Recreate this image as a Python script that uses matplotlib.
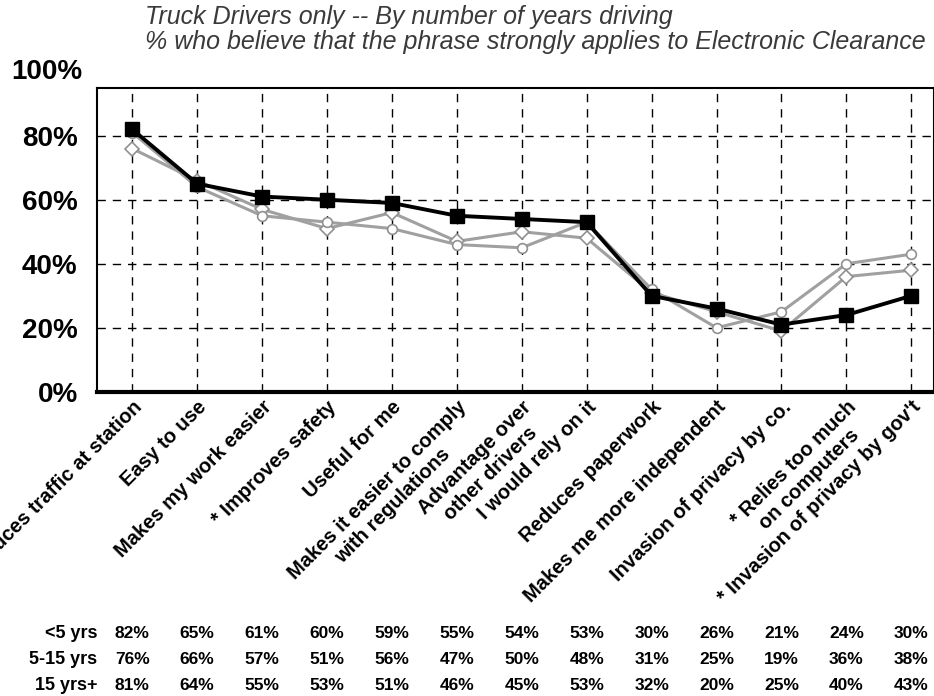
import matplotlib.pyplot as plt
import numpy as np

categories = [
    "Reduces traffic at station", "Easy to use", "Makes my work easier",
    "* Improves safety", "Useful for me",
    "Makes it easier to comply\nwith regulations",
    "Advantage over\nother drivers", "I would rely on it",
    "Reduces paperwork", "Makes me more independent",
    "Invasion of privacy by co.", "* Relies too much\non computers",
    "* Invasion of privacy by gov't",
]
groups = ["<5 yrs", "5-15 yrs", "15 yrs+"]
lt5 = [82, 65, 61, 60, 59, 55, 54, 53, 30, 26, 21, 24, 30]
mid = [76, 66, 57, 51, 56, 47, 50, 48, 31, 25, 19, 36, 38]
gt15 = [81, 64, 55, 53, 51, 46, 45, 53, 32, 20, 25, 40, 43]
yticks = [0, 20, 40, 60, 80, 100]

plt.rcParams['font.family'] = ['Liberation Sans', 'DejaVu Sans']

fig = plt.figure(figsize=(9.34, 6.96), dpi=100)
ax = fig.add_axes([0.104, 0.437, 0.896, 0.437])
x = np.arange(len(categories))

# gray series drawn first, black on top
for vals, mk in [(mid, 'D'), (gt15, 'o')]:
    ax.plot(x, vals, color='#a0a0a0', lw=2.2, marker=mk, ms=7,
            mfc='white', mec='#909090', mew=1.2, zorder=3)
ax.plot(x, lt5, color='black', lw=2.8, marker='s', ms=10, zorder=4)

ax.set_xlim(-0.54, 12.35)
ax.set_ylim(0, 95)
for y in yticks[1:-1]:
    ax.axhline(y, color='black', lw=1, ls=(0, (6, 5)), zorder=1)
for xi in x:
    ax.axvline(xi, color='black', lw=1, ls=(0, (6, 5)), zorder=1)

ax.set_yticks(yticks[:-1])
ax.set_yticklabels([f"{v}%" for v in yticks[:-1]], fontsize=20, fontweight='bold')
ax.text(-0.54 - 0.23, 100, "100%", fontsize=20, fontweight='bold',
        ha='right', va='center', clip_on=False)
ax.tick_params(axis='y', length=0, pad=14)
ax.tick_params(axis='x', length=0, pad=4)
ax.set_xticks(x)
ax.set_xticklabels(categories, rotation=45, ha='right', va='top',
                   rotation_mode='anchor', fontsize=14.5, fontweight='bold',
                   multialignment='center')
for s in ['left', 'top', 'right']:
    ax.spines[s].set_linewidth(1.5)
ax.spines['bottom'].set_linewidth(3)

fig.text(0.155, 0.976, "Truck Drivers only -- By number of years driving",
         fontsize=18, style='italic', color='#3a3a3a', va='center')
fig.text(0.155, 0.939, "% who believe that the phrase strongly applies to Electronic Clearance",
         fontsize=18, style='italic', color='#3a3a3a', va='center')

# data table under the chart
row_y = [634, 660, 686]
for name, vals, ry in zip(groups, [lt5, mid, gt15], row_y):
    yf = 1 - ry / 696
    fig.text(0.104, yf, name, fontsize=13, fontweight='bold', ha='right', va='center')
    for xi, v in zip(x, vals):
        xf = fig.transFigure.inverted().transform(ax.transData.transform((xi, 0)))[0]
        fig.text(xf, yf, f"{v}%", fontsize=12.5, fontweight='bold', ha='center', va='center')

fig.savefig("out.png", dpi=100)
